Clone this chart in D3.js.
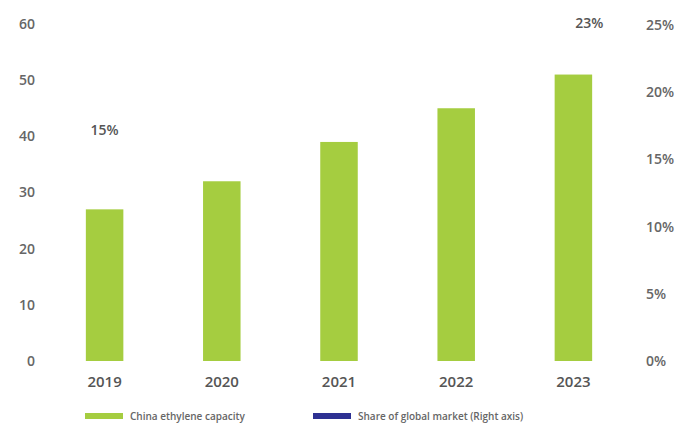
<!DOCTYPE html>
<html><head><meta charset="utf-8">
<script src="https://cdn.jsdelivr.net/npm/d3@7"></script>
<style>body{margin:0;background:#fff}svg{display:block}text{font-family:"Open Sans",Lato,sans-serif}</style>
</head><body><svg id="c" width="686" height="425"></svg>
<script>
const years = ["2019","2020","2021","2022","2023"];
const capacity = [27, 32, 39, 45, 51];
const shareLabelYears = ["2019","2023"];
const shareLabelValues = [15, 23];
const leftTicks = [0,10,20,30,40,50,60];
const rightTicks = [0,5,10,15,20,25];
const legendLabels = ["China ethylene capacity","Share of global market (Right axis)"];

const svg = d3.select("#c");
const x = d3.scaleBand().domain(years).range([46, 632]).paddingInner(0.68).paddingOuter(0.34);
const yL = d3.scaleLinear().domain([0,60]).range([361,24]);
const yR = d3.scaleLinear().domain([0,25]).range([361,25]);

svg.append("g").selectAll("rect").data(capacity).join("rect")
  .attr("x",(d,i)=>x(years[i])).attr("width",x.bandwidth())
  .attr("y",d=>yL(d)).attr("height",d=>yL(0)-yL(d)).attr("fill","#a5cd40");

const gl = svg.append("g").attr("transform","translate(35,0)")
  .call(d3.axisLeft(yL).tickValues(leftTicks).tickSize(0).tickPadding(0));
gl.select(".domain").remove();
gl.selectAll("text").attr("font-size",14).attr("fill","#666").attr("font-weight",600).attr("font-family","Open Sans");

const gr = svg.append("g").attr("transform","translate(646,0)")
  .call(d3.axisRight(yR).tickValues(rightTicks).tickFormat(d=>d+"%").tickSize(0).tickPadding(0));
gr.select(".domain").remove();
gr.selectAll("text").attr("font-size",14).attr("fill","#666").attr("font-weight",600).attr("font-family","Open Sans");

const gx = svg.append("g").attr("transform","translate(0,372)")
  .call(d3.axisBottom(x).tickSize(0).tickPadding(4));
gx.select(".domain").remove();
gx.selectAll("text").attr("font-size",15).attr("fill","#555").attr("font-weight",600).attr("font-family","Open Sans");

svg.append("g").selectAll("text").data(shareLabelValues).join("text")
  .attr("x",(d,i)=>x(shareLabelYears[i])+x.bandwidth()/2 + (i===1?16:0))
  .attr("y",d=>yR(d)-24)
  .attr("text-anchor","middle").attr("font-size",14).attr("fill","#555").attr("font-weight",600)
  .text(d=>d+"%");

const legendColors = ["#a5cd40","#2e3192"];
const legendX = [85, 313];
const lg = svg.append("g");
legendLabels.forEach((t,i)=>{
  lg.append("rect").attr("x",legendX[i]).attr("y",413).attr("width",38).attr("height",6).attr("fill",legendColors[i]);
  lg.append("text").attr("x",legendX[i]+45).attr("y",420).attr("font-size",10).attr("font-weight",600).attr("fill","#666").text(t);
});
</script></body></html>
